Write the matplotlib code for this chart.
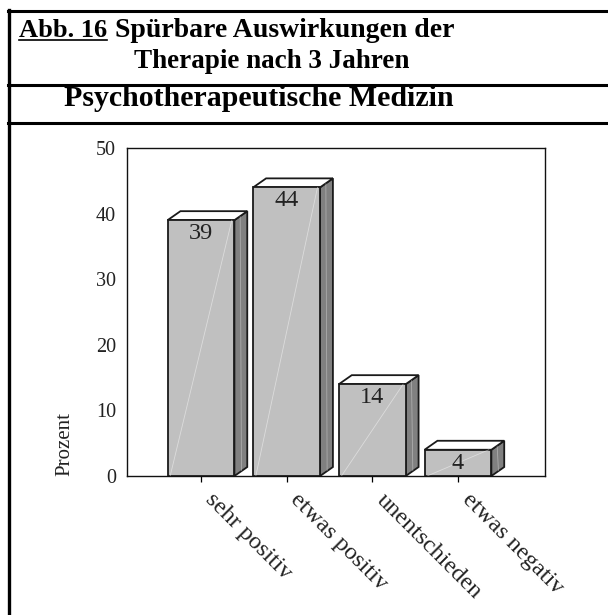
import numpy as np
import matplotlib
matplotlib.use("Agg")
import matplotlib.pyplot as plt
from matplotlib.patches import Polygon
from matplotlib.lines import Line2D
from matplotlib.transforms import ScaledTranslation

# data
categories = ["sehr positiv", "etwas positiv", "unentschieden", "etwas negativ"]
values = [39, 44, 14, 4]
yticks = [0, 10, 20, 30, 40, 50]

W, H = 608, 615
plt.rcParams['font.family'] = ['Liberation Serif', 'DejaVu Serif']

fig = plt.figure(figsize=(W / 100, H / 100), dpi=100)


def fx(px):
    return px / W


def fy(py):
    return 1 - py / H


# frame lines of the page box
for y in (11, 85, 123):
    fig.add_artist(Line2D([fx(8), 1], [fy(y), fy(y)], color="black", lw=2.2,
                          transform=fig.transFigure))
fig.add_artist(Line2D([fx(9), fx(9)], [fy(10), 0], color="black", lw=2.4,
                      transform=fig.transFigure))

# headings
t_abb = fig.text(fx(19), fy(37), "Abb. 16", fontsize=19, fontweight="bold",
                 ha="left", va="baseline")
fig.text(fx(115), fy(37), "Spürbare Auswirkungen der", fontsize=20,
         fontweight="bold", ha="left", va="baseline")
fig.text(fx(272), fy(68), "Therapie nach 3 Jahren", fontsize=19.5,
         fontweight="bold", ha="center", va="baseline")
fig.text(fx(259), fy(106), "Psychotherapeutische Medizin", fontsize=21.5,
         fontweight="bold", ha="center", va="baseline")

# chart
ax = fig.add_axes([fx(127), fy(476), fx(545) - fx(127), fy(148) - fy(476)])
x = np.arange(len(categories))
bw = 0.78
dx, dy = 0.15, 1.37  # depth of the pseudo 3d bars, data units

front = ax.bar(x, values, width=bw, color="#c0c0c0", edgecolor="#1a1a1a",
               linewidth=1.3, zorder=3)
for rect, v in zip(front, values):
    x0 = rect.get_x()
    x1 = x0 + rect.get_width()
    side = Polygon([(x1, 0), (x1 + dx, dy), (x1 + dx, v + dy), (x1, v)],
                   closed=True, facecolor="#808080", edgecolor="#1a1a1a",
                   lw=1.3, zorder=2.5)
    top = Polygon([(x0, v), (x0 + dx, v + dy), (x1 + dx, v + dy), (x1, v)],
                  closed=True, facecolor="white", edgecolor="#1a1a1a",
                  lw=1.3, zorder=2.5)
    ax.add_patch(side)
    ax.add_patch(top)
    # faint highlight streaks
    ax.plot([x0 + 0.03, x1 - 0.03], [0, v], color="white", lw=0.6,
            alpha=0.45, zorder=3.5)
    ax.plot([x1 + dx * 0.55, x1 + dx * 0.45], [dy * 0.6, v + dy * 0.4],
            color="white", lw=0.6, alpha=0.35, zorder=3.5)
    ax.annotate(str(v), (rect.get_x() + bw / 2, v), xytext=(0, -2),
                textcoords="offset points", ha="center", va="top",
                fontsize=17.5, color="#222222", zorder=4)

ax.set_xlim(-0.864, 4.016)
ax.set_ylim(0, 50)
ax.set_yticks(yticks)
ax.set_yticklabels([str(t) for t in yticks], fontsize=14.5, color="#222222")
ax.tick_params(axis="y", length=0, pad=8)
ax.set_xticks(x)
ax.set_xticklabels(categories, rotation=-45, ha="left", va="center",
                   rotation_mode="anchor", fontsize=17.5, color="#222222")
ax.tick_params(axis="x", length=4, width=0.9, direction="out", pad=11)
shift = ScaledTranslation(7 / 100, 0, fig.dpi_scale_trans)
for lab in ax.get_xticklabels():
    lab.set_transform(lab.get_transform() + shift)
for s in ax.spines.values():
    s.set_linewidth(1.0)
    s.set_color("#111111")

ax.text(-0.148, 0, "Prozent", transform=ax.transAxes, rotation=90,
        ha="center", va="bottom", fontsize=15, color="#222222")

# underline "Abb. 16"
fig.canvas.draw()
bb = t_abb.get_window_extent().transformed(fig.transFigure.inverted())
fig.add_artist(Line2D([bb.x0, bb.x1], [fy(40), fy(40)], color="black", lw=1.2,
                      transform=fig.transFigure))

fig.savefig("out.png", dpi=100)
